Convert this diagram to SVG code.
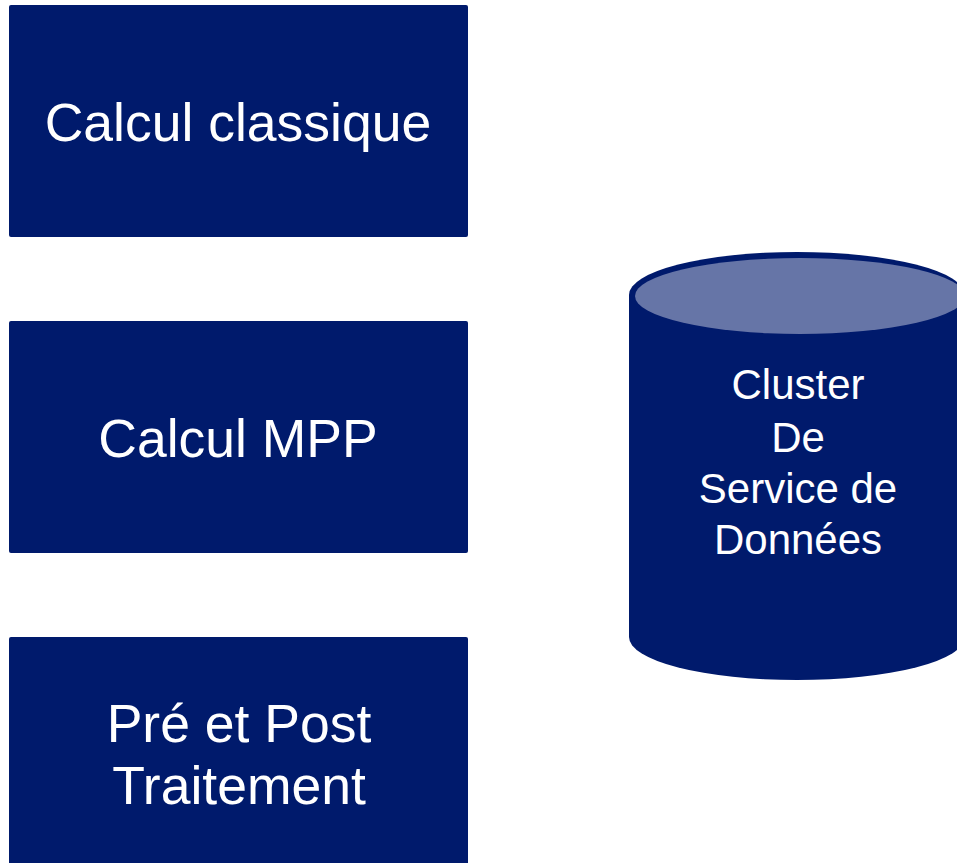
<svg xmlns="http://www.w3.org/2000/svg" width="957" height="863" viewBox="0 0 957 863">
<style>
.box{fill:#001A6C;}
.t{font-family:"Liberation Sans",Arial,sans-serif;fill:#FFFFFF;text-anchor:middle;}
.big{font-size:53.5px;}
.cyl{font-size:42px;}
</style>
<rect width="957" height="863" fill="#FFFFFF"/>
<g id="calcul-classique">
<rect class="box" x="9" y="5" width="459" height="232" rx="2"/>
<text class="t big" x="238" y="141">Calcul classique</text>
</g>
<g id="calcul-mpp">
<rect class="box" x="9" y="321" width="459" height="232" rx="2"/>
<text class="t big" x="238" y="457">Calcul MPP</text>
</g>
<g id="pre-post">
<rect class="box" x="9" y="637" width="459" height="240" rx="2"/>
<text class="t big" x="239" y="742">Pré et Post</text>
<text class="t big" x="239" y="804">Traitement</text>
</g>
<g id="cluster">
<path class="box" d="M629,295 A168,43 0 0 1 965,295 L965,637 A168,43 0 0 1 629,637 Z"/>
<ellipse cx="800" cy="296" rx="165" ry="38" fill="#6675A7"/>
<text class="t cyl" x="798" y="399">Cluster</text>
<text class="t cyl" x="798" y="452">De</text>
<text class="t cyl" x="798" y="503">Service de</text>
<text class="t cyl" x="798" y="554">Données</text>
</g>
<g id="connectors"/>
</svg>
